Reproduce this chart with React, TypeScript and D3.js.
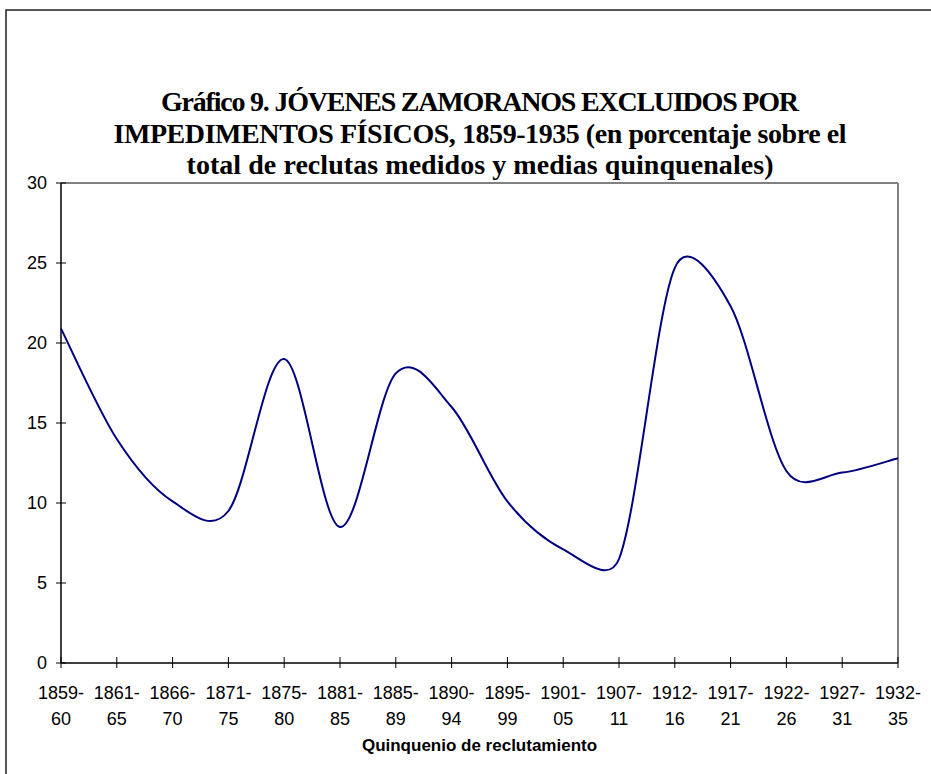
import React from 'react';
import * as d3 from 'd3';

const categories = [
  '1859-60', '1861-65', '1866-70', '1871-75', '1875-80', '1881-85', '1885-89', '1890-94',
  '1895-99', '1901-05', '1907-11', '1912-16', '1917-21', '1922-26', '1927-31', '1932-35',
];
const values = [20.9, 14.0, 10.1, 9.5, 19.0, 8.5, 18.1, 16.0, 10.1, 7.1, 6.5, 24.7, 22.3, 12.0, 11.9, 12.8];
const yTicks = [0, 5, 10, 15, 20, 25, 30];
const titleLines = [
  'Gráfico 9. JÓVENES ZAMORANOS EXCLUIDOS POR',
  'IMPEDIMENTOS FÍSICOS, 1859-1935 (en porcentaje sobre el',
  'total de reclutas medidos y medias quinquenales)',
];
const xAxisTitle = 'Quinquenio de reclutamiento';

// Excel-like smoothed line: Bezier segments with 1/6 tangent arms,
// each arm limited to half the length of its segment.
function smoothPath(pts: [number, number][]): string {
  const p = d3.path();
  if (!pts.length) return '';
  p.moveTo(pts[0][0], pts[0][1]);
  const n = pts.length;
  const limit = (ax: number, ay: number, maxLen: number): [number, number] => {
    const len = Math.hypot(ax, ay);
    if (len > maxLen && len > 0) {
      const s = maxLen / len;
      return [ax * s, ay * s];
    }
    return [ax, ay];
  };
  for (let i = 0; i < n - 1; i++) {
    const p0 = pts[Math.max(0, i - 1)];
    const p1 = pts[i];
    const p2 = pts[i + 1];
    const p3 = pts[Math.min(n - 1, i + 2)];
    const d = Math.hypot(p2[0] - p1[0], p2[1] - p1[1]);
    const [a1x, a1y] = limit((p2[0] - p0[0]) / 6, (p2[1] - p0[1]) / 6, d / 2);
    const [a2x, a2y] = limit((p3[0] - p1[0]) / 6, (p3[1] - p1[1]) / 6, d / 2);
    p.bezierCurveTo(p1[0] + a1x, p1[1] + a1y, p2[0] - a2x, p2[1] - a2y, p2[0], p2[1]);
  }
  return p.toString();
}

export default function App() {
  const W = 931;
  const H = 774;
  const left = 61;
  const right = 898;
  const top = 183;
  const bottom = 663;

  const x = d3.scalePoint<string>().domain(categories).range([left, right]);
  const y = d3.scaleLinear().domain([0, 30]).range([bottom, top]);

  const pts: [number, number][] = values.map((v, i) => [x(categories[i]) as number, y(v)]);

  const sans = '"Liberation Sans", Arial, sans-serif';
  const serif = '"Liberation Serif", "Times New Roman", serif';
  const titleWidths = [638, 733, 587];
  const titleCenter = 480;

  return (
    <svg
      width={W}
      height={H}
      style={{ position: 'absolute', left: 0, top: 0, background: '#fff' }}
    >
      <rect x={0} y={0} width={W} height={H} fill="#fff" />
      {/* outer chart border */}
      <rect x={6} y={10} width={1000} height={1000} fill="none" stroke="#222" strokeWidth={1.5} />

      {/* title */}
      {titleLines.map((t, i) => (
        <text
          key={i}
          x={titleCenter - titleWidths[i] / 2}
          y={111 + i * 31.5}
          textLength={titleWidths[i]}
          lengthAdjust="spacing"
          fontFamily={serif}
          fontWeight="bold"
          fontSize={28}
          fill="#000"
        >
          {t}
        </text>
      ))}

      {/* plot frame: top & right grey */}
      <line x1={left} x2={right} y1={top} y2={top} stroke="#808080" strokeWidth={2} />
      <line x1={right} x2={right} y1={top} y2={bottom} stroke="#808080" strokeWidth={2} />

      {/* y axis */}
      <line x1={left} x2={left} y1={top} y2={bottom} stroke="#000" strokeWidth={1.5} />
      {yTicks.map((t) => (
        <g key={t}>
          <line x1={left - 5} x2={left + 5} y1={y(t)} y2={y(t)} stroke="#000" strokeWidth={1} />
          <text
            x={47}
            y={y(t)}
            dy="0.36em"
            textAnchor="end"
            fontFamily={sans}
            fontSize={18}
            fill="#000"
          >
            {t}
          </text>
        </g>
      ))}

      {/* x axis */}
      <line x1={left} x2={right} y1={bottom} y2={bottom} stroke="#000" strokeWidth={1.5} />
      {categories.map((c) => {
        const cx = x(c) as number;
        const [a, b] = c.split('-');
        return (
          <g key={c}>
            <line x1={cx} x2={cx} y1={bottom - 6} y2={bottom + 5} stroke="#000" strokeWidth={1} />
            <text x={cx} y={699} textAnchor="middle" fontFamily={sans} fontSize={18} fill="#000">
              {a + '-'}
            </text>
            <text x={cx} y={725} textAnchor="middle" fontFamily={sans} fontSize={18} fill="#000">
              {b}
            </text>
          </g>
        );
      })}
      <text
        x={(left + right) / 2}
        y={751}
        textAnchor="middle"
        fontFamily={sans}
        fontWeight="bold"
        fontSize={17}
        fill="#000"
      >
        {xAxisTitle}
      </text>

      {/* series */}
      <path d={smoothPath(pts)} fill="none" stroke="#000080" strokeWidth={2} />
    </svg>
  );
}
